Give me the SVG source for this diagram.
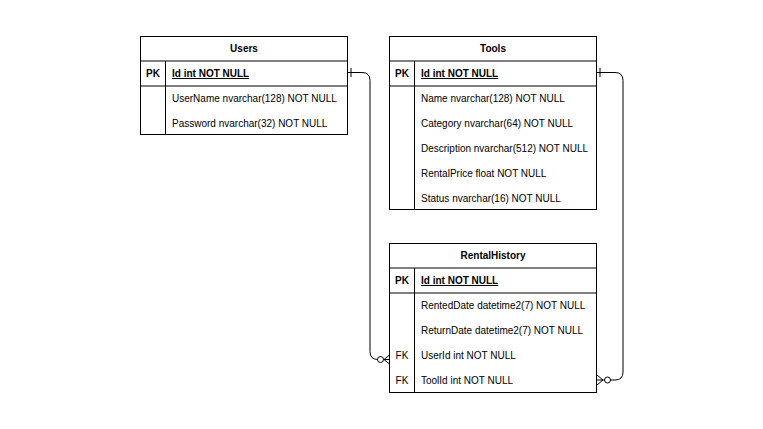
<svg xmlns="http://www.w3.org/2000/svg" width="763" height="429" viewBox="0 0 763 429">
<style>
.box{fill:#fff;stroke:#000;stroke-width:1}
.ln{stroke:#000;stroke-width:1;fill:none}
.t{font-family:"Liberation Sans",Arial,sans-serif;font-size:10px;fill:#000}
.h{font-weight:bold;text-anchor:middle}
.b{font-weight:bold}
.c{text-anchor:middle}
.u{text-decoration:underline}
.edge{stroke:#000;stroke-width:1;fill:none}
</style>
<rect width="763" height="429" fill="#fff"/>
<g id="users">
<rect class="box" x="140.5" y="36.5" width="207" height="98"/>
<line class="ln" x1="140.5" y1="61" x2="347.5" y2="61"/>
<line class="ln" x1="140.5" y1="86" x2="347.5" y2="86"/>
<line class="ln" x1="165.5" y1="61" x2="165.5" y2="134.5"/>
<text class="t h" x="244" y="52">Users</text>
<text class="t b c" x="153" y="77">PK</text>
<text class="t b u" x="172" y="77">Id int NOT NULL</text>
<text class="t" x="172" y="102">UserName nvarchar(128) NOT NULL</text>
<text class="t" x="172" y="127">Password nvarchar(32) NOT NULL</text>
</g>
<g id="tools">
<rect class="box" x="389.5" y="36.5" width="207" height="173"/>
<line class="ln" x1="389.5" y1="61" x2="596.5" y2="61"/>
<line class="ln" x1="389.5" y1="86" x2="596.5" y2="86"/>
<line class="ln" x1="414.5" y1="61" x2="414.5" y2="209.5"/>
<text class="t h" x="493" y="52">Tools</text>
<text class="t b c" x="402" y="77">PK</text>
<text class="t b u" x="421" y="77">Id int NOT NULL</text>
<text class="t" x="421" y="102">Name nvarchar(128) NOT NULL</text>
<text class="t" x="421" y="127">Category nvarchar(64) NOT NULL</text>
<text class="t" x="421" y="152">Description nvarchar(512) NOT NULL</text>
<text class="t" x="421" y="177">RentalPrice float NOT NULL</text>
<text class="t" x="421" y="202">Status nvarchar(16) NOT NULL</text>
</g>
<g id="rentalhistory">
<rect class="box" x="389.5" y="243.5" width="207" height="149"/>
<line class="ln" x1="389.5" y1="268" x2="596.5" y2="268"/>
<line class="ln" x1="389.5" y1="293" x2="596.5" y2="293"/>
<line class="ln" x1="414.5" y1="268" x2="414.5" y2="392.5"/>
<text class="t h" x="493" y="259">RentalHistory</text>
<text class="t b c" x="402" y="284">PK</text>
<text class="t b u" x="421" y="284">Id int NOT NULL</text>
<text class="t" x="421" y="309">RentedDate datetime2(7) NOT NULL</text>
<text class="t" x="421" y="334">ReturnDate datetime2(7) NOT NULL</text>
<text class="t c" x="402" y="359">FK</text>
<text class="t" x="421" y="359">UserId int NOT NULL</text>
<text class="t c" x="402" y="384">FK</text>
<text class="t" x="421" y="384">ToolId int NOT NULL</text>
</g>
<g id="connectors">
<path class="edge" d="M348,72.5 H362 Q370,72.5 370,80.5 V351.5 Q370,359.5 378,359.5 M383.5,359.5 H390"/>
<line class="edge" x1="351" y1="68" x2="351" y2="77"/>
<circle class="edge" cx="380.5" cy="359.5" r="3"/>
<path class="edge" d="M390,354.5 L384,359.5 L390,364.5"/>
<path class="edge" d="M597,72.5 H615 Q623,72.5 623,80.5 V372 Q623,380 615,380 H610.5 M604.5,380 H597"/>
<line class="edge" x1="600" y1="68" x2="600" y2="77"/>
<circle class="edge" cx="607.5" cy="380" r="3"/>
<path class="edge" d="M597,375 L603,380 L597,385"/>
</g>
</svg>
